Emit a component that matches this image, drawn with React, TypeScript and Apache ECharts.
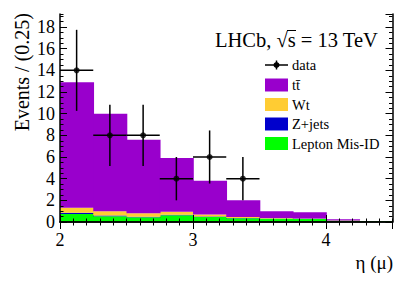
import React, { useEffect, useRef } from "react";
import * as echarts from "echarts";

// Histogram bins (lower edges, width 0.25)
const binLow = [2.0, 2.25, 2.5, 2.75, 3.0, 3.25, 3.5, 3.75, 4.0, 4.25];
const binWidth = 0.25;
// Stacked components (bottom to top)
const misID = [0.75, 0.52, 0.43, 0.62, 0.46, 0.34, 0.3, 0.28, 0.12, 0.1];
const zjets = [0.1, 0.08, 0.05, 0.05, 0.04, 0.02, 0.02, 0.02, 0.0, 0.0];
const wt = [0.47, 0.4, 0.32, 0.28, 0.2, 0.1, 0.05, 0.03, 0.02, 0.0];
const ttbar = [11.58, 9.0, 6.8, 4.95, 3.1, 1.54, 0.63, 0.57, 0.11, 0.0];
// Data points
const dataX = [2.125, 2.375, 2.625, 2.875, 3.125, 3.375];
const dataY = [14, 8, 8, 4, 6, 4];
const dataErr = [3.74, 2.83, 2.83, 2.0, 2.45, 2.0];
// Axis ticks
const xTickLabels = ["2", "3", "4"];
const yTickLabels = ["0", "2", "4", "6", "8", "10", "12", "14", "16", "18"];

const FONT = "'Liberation Serif', 'DejaVu Serif', serif";
const colors = {
  ttbar: "#9900cc",
  wt: "#ffcc33",
  zjets: "#0000cc",
  misID: "#00ff00",
};

function stackSeries(name: string, vals: number[], base: number[], color: string) {
  const data = binLow.map((lo, i) => [lo, lo + binWidth, base[i], base[i] + vals[i]]);
  return {
    name,
    type: "custom",
    xAxisIndex: 0,
    yAxisIndex: 0,
    z: 2,
    data,
    renderItem: (_p: any, api: any) => {
      if (api.value(3) - api.value(2) <= 0) return null;
      const p0 = api.coord([api.value(0), api.value(2)]);
      const p1 = api.coord([api.value(1), api.value(3)]);
      const isLast = api.value(1) >= 4.5;
      return {
        type: "rect",
        shape: {
          x: p0[0],
          y: p1[1],
          width: p1[0] - p0[0] + (isLast ? 0 : 0.8),
          height: p0[1] - p1[1],
        },
        style: { fill: color },
      };
    },
  };
}

export default function App() {
  const ref = useRef<HTMLDivElement>(null);
  useEffect(() => {
    const chart = echarts.init(ref.current!, null, { renderer: "svg" });
    const b0 = binLow.map(() => 0);
    const b1 = misID.map((v, i) => b0[i] + v);
    const b2 = zjets.map((v, i) => b1[i] + v);
    const b3 = wt.map((v, i) => b2[i] + v);

    const xCommon = { type: "value", min: 2, max: 4.5, splitLine: { show: false } };
    const yCommon = { type: "value", min: 0, max: 19.2, splitLine: { show: false } };
    const lineStyle = { color: "#000", width: 1.5 };
    const tickMaj = { show: true, inside: true, length: 7, lineStyle: { color: "#000", width: 1 } };
    const tickMin = { show: true, inside: true, length: 3.5, lineStyle: { color: "#000", width: 1 } };

    const option: any = {
      animation: false,
      grid: { left: 60, top: 14, width: 332.5, height: 208, containLabel: false },
      xAxis: [
        {
          ...xCommon,
          position: "bottom",
          interval: 1,
          z: 10,
          axisLine: { show: true, lineStyle },
          axisTick: tickMaj,
          axisLabel: {
            show: true,
            margin: 9,
            showMaxLabel: false,
            color: "#000",
            fontFamily: FONT,
            fontSize: 18,
            formatter: (v: number) => (xTickLabels.includes(String(v)) ? String(v) : ""),
          },
        },
        { ...xCommon, position: "bottom", interval: 0.1, z: 10, axisLine: { show: false }, axisTick: tickMin, axisLabel: { show: false } },
        { ...xCommon, position: "top", interval: 1, z: 10, axisLine: { show: true, lineStyle }, axisTick: tickMaj, axisLabel: { show: false } },
        { ...xCommon, position: "top", interval: 0.1, z: 10, axisLine: { show: false }, axisTick: tickMin, axisLabel: { show: false } },
      ],
      yAxis: [
        {
          ...yCommon,
          position: "left",
          interval: 2,
          z: 10,
          axisLine: { show: true, lineStyle },
          axisTick: tickMaj,
          axisLabel: {
            show: true,
            margin: 5,
            showMaxLabel: false,
            color: "#000",
            fontFamily: FONT,
            fontSize: 18,
            formatter: (v: number) => (yTickLabels.includes(String(v)) ? String(v) : ""),
          },
        },
        { ...yCommon, position: "left", interval: 0.5, z: 10, axisLine: { show: false }, axisTick: tickMin, axisLabel: { show: false } },
        { ...yCommon, position: "right", interval: 2, z: 10, axisLine: { show: true, lineStyle }, axisTick: tickMaj, axisLabel: { show: false } },
        { ...yCommon, position: "right", interval: 0.5, z: 10, axisLine: { show: false }, axisTick: tickMin, axisLabel: { show: false } },
      ],
      series: [
        stackSeries("Lepton Mis-ID", misID, b0, colors.misID),
        stackSeries("Z+jets", zjets, b1, colors.zjets),
        stackSeries("Wt", wt, b2, colors.wt),
        stackSeries("tt̄", ttbar, b3, colors.ttbar),
        {
          name: "data errors",
          type: "custom",
          xAxisIndex: 0,
          yAxisIndex: 0,
          z: 5,
          data: dataX.map((x, i) => [x, dataY[i], dataErr[i]]),
          renderItem: (_p: any, api: any) => {
            const x = api.value(0);
            const y = api.value(1);
            const e = api.value(2);
            const l = api.coord([x - binWidth / 2, y]);
            const r = api.coord([x + binWidth / 2, y]);
            const t = api.coord([x, y + e]);
            const b = api.coord([x, y - e]);
            const st = { stroke: "#000", lineWidth: 1.5 };
            return {
              type: "group",
              children: [
                { type: "line", shape: { x1: l[0], y1: l[1], x2: r[0], y2: r[1] }, style: st },
                { type: "line", shape: { x1: t[0], y1: t[1], x2: b[0], y2: b[1] }, style: st },
              ],
            };
          },
        },
        {
          name: "data",
          type: "scatter",
          xAxisIndex: 0,
          yAxisIndex: 0,
          z: 6,
          symbol: "circle",
          symbolSize: 6,
          itemStyle: { color: "#000" },
          data: dataX.map((x, i) => [x, dataY[i]]),
        },
      ],
      graphic: [
        {
          type: "text",
          x: 22,
          y: 13,
          rotation: Math.PI / 2,
          style: {
            text: "Events / (0.25)",
            font: `20px ${FONT}`,
            fill: "#000",
            align: "right",
            verticalAlign: "middle",
          },
        },
        {
          type: "text",
          x: 393,
          y: 262,
          style: {
            text: "η (μ)",
            font: `19px ${FONT}`,
            fill: "#000",
            align: "right",
            verticalAlign: "middle",
          },
        },
        {
          type: "text",
          x: 215,
          y: 40,
          style: {
            text: "LHCb, √s = 13 TeV",
            font: `20.5px ${FONT}`,
            fill: "#000",
            align: "left",
            verticalAlign: "middle",
          },
        },
        // overline of the square root
        { type: "line", shape: { x1: 287, y1: 30.5, x2: 296, y2: 30.5 }, style: { stroke: "#000", lineWidth: 1 } },
        // legend: data
        { type: "line", shape: { x1: 265, y1: 65, x2: 288, y2: 65 }, style: { stroke: "#000", lineWidth: 1.5 } },
        { type: "line", shape: { x1: 276.5, y1: 60.5, x2: 276.5, y2: 69.5 }, style: { stroke: "#000", lineWidth: 1.5 } },
        { type: "circle", shape: { cx: 276.5, cy: 65, r: 3 }, style: { fill: "#000" } },
        { type: "text", x: 292, y: 65, style: { text: "data", font: `14.5px ${FONT}`, fill: "#000", verticalAlign: "middle" } },
        // legend: boxes
        { type: "rect", shape: { x: 265, y: 78.5, width: 23, height: 13 }, style: { fill: colors.ttbar } },
        { type: "text", x: 292, y: 85, style: { text: "tt̄", font: `14.5px ${FONT}`, fill: "#000", verticalAlign: "middle" } },
        { type: "rect", shape: { x: 265, y: 98, width: 23, height: 13 }, style: { fill: colors.wt } },
        { type: "text", x: 292, y: 104.5, style: { text: "Wt", font: `14.5px ${FONT}`, fill: "#000", verticalAlign: "middle" } },
        { type: "rect", shape: { x: 265, y: 117.5, width: 23, height: 13 }, style: { fill: colors.zjets } },
        { type: "text", x: 292, y: 124, style: { text: "Z+jets", font: `14.5px ${FONT}`, fill: "#000", verticalAlign: "middle" } },
        { type: "rect", shape: { x: 265, y: 137, width: 23, height: 13 }, style: { fill: colors.misID } },
        { type: "text", x: 292, y: 143.5, style: { text: "Lepton Mis-ID", font: `14.5px ${FONT}`, fill: "#000", verticalAlign: "middle" } },
      ],
    };
    chart.setOption(option);
    return () => chart.dispose();
  }, []);
  return (
    <div
      ref={ref}
      style={{ position: "fixed", left: 0, top: 0, width: 415, height: 281, background: "#fff" }}
    />
  );
}
